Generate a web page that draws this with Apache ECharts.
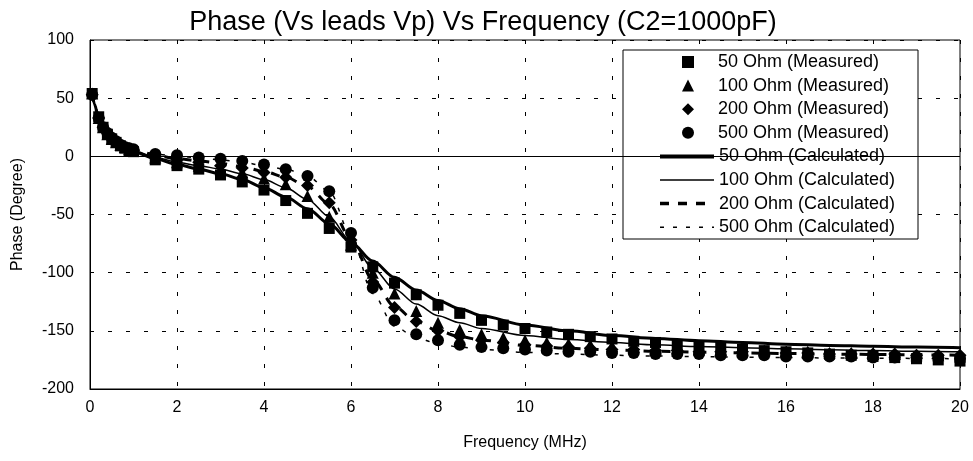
<!DOCTYPE html>
<html>
<head>
<meta charset="utf-8">
<script src="https://cdn.jsdelivr.net/npm/echarts@6/dist/echarts.min.js"></script>
<style>
  html, body { margin: 0; padding: 0; background: #fff; }
  #chart { width: 973px; height: 461px; }
</style>
</head>
<body>
<div id="chart"></div>
<script>
// measured frequencies (MHz)
const freqMeasured = [0.05, 0.2, 0.3, 0.4, 0.5, 0.6, 0.7, 0.8, 0.9, 1.0,
  1.5, 2, 2.5, 3, 3.5, 4, 4.5, 5, 5.5, 6,
  6.5, 7, 7.5, 8, 8.5, 9, 9.5, 10, 10.5, 11,
  11.5, 12, 12.5, 13, 13.5, 14, 14.5, 15, 15.5, 16,
  16.5, 17, 17.5, 18, 18.5, 19, 19.5, 20];

const meas50 = [54, 34, 25, 19, 15, 12, 9, 7, 5, 4,
  -3, -8, -11, -16, -22, -29, -38, -49, -62, -78,
  -95, -109, -119, -128, -135, -141, -145, -148, -151, -153,
  -155, -157, -159, -160, -162, -163, -164, -166, -167, -168,
  -169, -170, -171, -172, -173, -174, -175, -176];

const meas100 = [54, 33, 25, 19, 15, 12, 10, 8, 6, 5,
  -1, -5, -8, -11, -14, -19, -24, -34, -52, -76,
  -100, -118, -133, -143, -149, -153, -156, -158, -160, -161,
  -162, -163, -164, -165, -165, -166, -166, -167, -167, -168,
  -168, -169, -169, -170, -170, -171, -171, -172];

const meas200 = [53, 33, 25, 20, 16, 12, 10, 8, 6, 5,
  0, -3, -5, -8, -10, -14, -18, -25, -40, -72,
  -108, -130, -142, -150, -155, -158, -160, -162, -163, -164,
  -165, -166, -166, -167, -167, -168, -168, -168, -169, -169,
  -169, -170, -170, -170, -170, -171, -171, -171];

const meas500 = [53, 33, 25, 20, 16, 13, 10, 8, 7, 6,
  2, 1, -1, -2, -4, -7, -11, -17, -30, -66,
  -113, -141, -153, -158, -162, -164, -165, -166, -167, -168,
  -168, -169, -169, -170, -170, -170, -171, -171, -171, -172,
  -172, -172, -172, -173, -173, -173, -173, -174];

// calculated curves
const freqCalc = [0.05, 0.1, 0.2, 0.3, 0.5, 0.75, 1,
  1.5, 2, 2.5, 3, 3.5, 4, 4.5, 5, 5.5, 6,
  6.5, 7, 7.5, 8, 8.5, 9,
  10, 11, 12, 13, 14, 15, 16, 17, 18, 19, 20];

const calc50 = [55, 45, 33, 25, 15, 8, 4,
  -2, -7, -11, -15, -20, -27, -35, -45, -58, -74,
  -90, -104, -115, -124, -131, -137,
  -145, -150, -154, -156.5, -158.5, -160, -161.5, -162.5, -163.3, -164, -164.5];

const calc100 = [55, 45, 33, 25, 16, 9, 5,
  -1, -5, -8, -11, -15, -20, -27, -37, -52, -73,
  -96, -114, -127, -137, -143, -148,
  -154, -157.5, -160, -162, -163.5, -164.5, -165.5, -166.3, -167, -167.5, -168];

const calc200 = [55, 45, 33, 25, 16, 10, 6,
  1, -2, -4, -6, -9, -13, -18, -26, -41, -71,
  -106, -129, -142, -150, -155, -158,
  -162.5, -165, -166.5, -167.5, -168.3, -169, -169.5, -170, -170.3, -170.6, -171];

const calc500 = [55, 45, 33, 25, 16, 10, 6,
  2, 0, -1, -3, -5, -8, -11, -17, -30, -68,
  -118, -146, -156, -161, -164, -166,
  -168.5, -170, -171, -171.7, -172.2, -172.6, -173, -173.3, -173.5, -173.7, -174];

const measuredNames = ["50 Ohm (Measured)", "100 Ohm (Measured)", "200 Ohm (Measured)", "500 Ohm (Measured)"];
const calculatedNames = ["50 Ohm (Calculated)", "100 Ohm (Calculated)", "200 Ohm (Calculated)", "500 Ohm (Calculated)"];

const xTicks = { min: 0, max: 20, interval: 2 };
const yTicks = { min: -200, max: 100, interval: 50 };

const zip = (xs, ys) => xs.map((x, i) => [x, ys[i]]);
const FONT = "Liberation Sans, Arial, sans-serif";

const measured = (name, symbol, size, ys) => ({
  name: name,
  type: "scatter",
  symbol: symbol,
  symbolSize: size,
  itemStyle: { color: "#000", opacity: 1 },
  emphasis: { disabled: true },
  data: zip(freqMeasured, ys),
  z: 2,
});

const calculated = (name, width, type, ys) => ({
  name: name,
  type: "line",
  smooth: 0.3,
  smoothMonotone: "x",
  showSymbol: false,
  symbol: "none",
  itemStyle: { color: "#000" },
  lineStyle: { color: "#000", width: width, type: type },
  data: zip(freqCalc, ys),
  z: 2,
});

// legend entries for the calculated lines: line only, no centre dot
const lineItem = (name, width, type) => ({
  name: name,
  itemStyle: { opacity: 0 },
  lineStyle: { color: "#000", width: width, type: type },
});

const legendText = { fontFamily: FONT, fontSize: 18, color: "#000", lineHeight: 18 };

const chart = echarts.init(document.getElementById("chart"));

const option = {
  animation: false,
  backgroundColor: "#fff",
  title: {
    text: "Phase (Vs leads Vp) Vs Frequency (C2=1000pF)",
    left: 478,
    textAlign: "center",
    top: 4,
    textStyle: { fontFamily: FONT, fontSize: 27, fontWeight: "normal", color: "#000" },
  },
  grid: {
    left: 90, right: 13, top: 40, bottom: 72,
    show: true, borderColor: "#000", borderWidth: 1,
  },
  legend: [
    {
      orient: "vertical",
      left: 682,
      top: 53,
      padding: 0,
      z: 10,
      itemWidth: 12,
      itemHeight: 12,
      itemGap: 5.6,
      textStyle: Object.assign({ padding: [0, 0, 0, 19] }, legendText),
      data: measuredNames,
    },
    {
      orient: "vertical",
      left: 658,
      top: 147.4,
      padding: 0,
      z: 10,
      itemWidth: 54,
      itemHeight: 12,
      itemGap: 5.6,
      textStyle: legendText,
      data: [
        lineItem(calculatedNames[0], 4, "solid"),
        lineItem(calculatedNames[1], 1.5, "solid"),
        lineItem(calculatedNames[2], 3.5, [9, 9]),
        lineItem(calculatedNames[3], 1.5, [4, 9]),
      ],
    },
  ],
  graphic: [{
    type: "rect",
    shape: { x: 623, y: 50, width: 295, height: 189 },
    style: { fill: "#fff", stroke: "#000", lineWidth: 1 },
    z: 5,
    silent: true,
  }],
  xAxis: {
    type: "value",
    min: xTicks.min, max: xTicks.max, interval: xTicks.interval,
    name: "Frequency (MHz)",
    nameLocation: "middle",
    nameGap: 46,
    nameTextStyle: { fontFamily: FONT, fontSize: 16, color: "#000" },
    axisLine: { onZero: false, lineStyle: { color: "#000", width: 1 } },
    axisTick: { show: false },
    axisLabel: { margin: 11, fontFamily: FONT, fontSize: 16, color: "#000" },
    splitLine: { show: true, lineStyle: { color: "#000", width: 1, type: [4, 14] } },
  },
  yAxis: {
    type: "value",
    min: yTicks.min, max: yTicks.max, interval: yTicks.interval,
    name: "Phase (Degree)",
    nameLocation: "middle",
    nameGap: 64,
    nameTextStyle: { fontFamily: FONT, fontSize: 16, color: "#000" },
    axisLine: { show: true, lineStyle: { color: "#000", width: 1 } },
    axisTick: { show: false },
    axisLabel: { margin: 16, fontFamily: FONT, fontSize: 16, color: "#000" },
    splitLine: { show: true, lineStyle: { color: "#000", width: 1, type: [4, 14] } },
  },
  series: [
    Object.assign(measured(measuredNames[0], "rect", 11, meas50), {
      markLine: {
        silent: true,
        symbol: "none",
        label: { show: false },
        lineStyle: { color: "#000", width: 1, type: "solid" },
        data: [{ yAxis: 0 }],
      },
    }),
    measured(measuredNames[1], "triangle", 12, meas100),
    measured(measuredNames[2], "diamond", 13, meas200),
    measured(measuredNames[3], "circle", 12, meas500),
    calculated(calculatedNames[0], 3, "solid", calc50),
    calculated(calculatedNames[1], 1.5, "solid", calc100),
    calculated(calculatedNames[2], 3, [9, 9], calc200),
    calculated(calculatedNames[3], 1.5, [4, 9], calc500),
  ],
};

chart.setOption(option);
</script>
</body>
</html>
